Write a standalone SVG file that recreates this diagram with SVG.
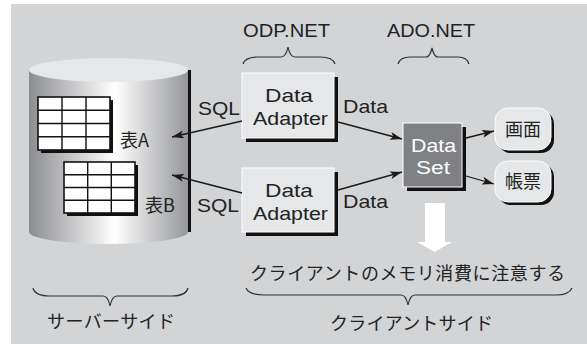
<svg xmlns="http://www.w3.org/2000/svg" width="587" height="344" viewBox="0 0 587 344">
<defs>
<linearGradient id="cyl" x1="0" y1="0" x2="1" y2="0">
<stop offset="0" stop-color="#8c8d90"/>
<stop offset="0.54" stop-color="#ffffff"/>
<stop offset="1" stop-color="#96979a"/>
</linearGradient>
<marker id="ah" viewBox="0 0 12 8" refX="12" refY="4" markerWidth="12" markerHeight="8" markerUnits="userSpaceOnUse" orient="auto">
<path d="M0,0 L12,4 L0,8 L3,4 Z" fill="#1a1a1a"/>
</marker>
</defs>
<style>
.t{font-family:"Liberation Sans","Noto Sans CJK JP",sans-serif;font-size:19px;fill:#222;}
.j{font-family:"Noto Sans CJK JP","Liberation Sans",sans-serif;font-size:18px;fill:#222;}
.w{fill:#ffffff;}
.shadow{fill:#111;}
.br{fill:none;stroke:#333;stroke-width:1.2;}
.cn{fill:none;stroke:#1a1a1a;stroke-width:1.3;marker-end:url(#ah);}
.tbl{fill:#fff;stroke:#111;stroke-width:1.6;}
.grid{stroke:#111;stroke-width:1.4;}
</style>
<rect x="0" y="0" width="587" height="344" fill="#ffffff"/>
<rect x="11" y="4" width="576" height="340" fill="#d3d4d6"/>

<g id="database">
<rect x="188" y="70" width="3" height="162" fill="#111"/>
<path d="M29,70 L29,232 A79.5,12 0 0 0 188,232 L188,70 Z" fill="url(#cyl)"/>
<ellipse cx="108.5" cy="70" rx="79.5" ry="12" fill="#e6e7e9"/>
</g>

<g id="tableA">
<rect x="41" y="100" width="72" height="53" class="shadow"/>
<rect x="38" y="97" width="72" height="53" class="tbl"/>
<path d="M62,97 V150 M86,97 V150 M38,110.25 H110 M38,123.5 H110 M38,136.75 H110" class="grid"/>
<text x="120" y="147" class="j">表A</text>
</g>

<g id="tableB">
<rect x="67" y="165" width="71" height="51" class="shadow"/>
<rect x="64" y="162" width="71" height="51" class="tbl"/>
<path d="M87.7,162 V213 M111.3,162 V213 M64,174.75 H135 M64,187.5 H135 M64,200.25 H135" class="grid"/>
<text x="145" y="212" class="j">表B</text>
</g>

<g id="adapter1">
<rect x="246" y="77" width="92" height="65" class="shadow"/>
<rect x="242" y="73" width="92" height="65" fill="#e6e7e9" stroke="#fff" stroke-width="1"/>
<text x="265" y="102" class="t" textLength="48" lengthAdjust="spacingAndGlyphs">Data</text>
<text x="253" y="125" class="t" textLength="75" lengthAdjust="spacingAndGlyphs">Adapter</text>
</g>

<g id="adapter2">
<rect x="246" y="172" width="92" height="64" class="shadow"/>
<rect x="242" y="168" width="92" height="64" fill="#e6e7e9" stroke="#fff" stroke-width="1"/>
<text x="265" y="197" class="t" textLength="48" lengthAdjust="spacingAndGlyphs">Data</text>
<text x="253" y="220" class="t" textLength="75" lengthAdjust="spacingAndGlyphs">Adapter</text>
</g>

<g id="dataset">
<rect x="407" y="127" width="59" height="64" class="shadow"/>
<rect x="403" y="123" width="59" height="64" fill="#808184" stroke="#fff" stroke-width="1"/>
<text x="411" y="152" class="t w" textLength="45" lengthAdjust="spacingAndGlyphs">Data</text>
<text x="416" y="174" class="t w" textLength="34" lengthAdjust="spacingAndGlyphs">Set</text>
</g>

<g id="screen">
<rect x="498" y="111" width="56" height="42" rx="13" class="shadow"/>
<rect x="495" y="108" width="56" height="42" rx="13" fill="#e6e7e9" stroke="#fff" stroke-width="1"/>
<text x="523" y="136" class="j" text-anchor="middle">画面</text>
</g>

<g id="report">
<rect x="498" y="164" width="56" height="41" rx="13" class="shadow"/>
<rect x="495" y="161" width="56" height="41" rx="13" fill="#e6e7e9" stroke="#fff" stroke-width="1"/>
<text x="523" y="188" class="j" text-anchor="middle">帳票</text>
</g>

<g id="connectors">
<line x1="242" y1="121" x2="172" y2="137" class="cn"/>
<line x1="242" y1="193" x2="172" y2="175" class="cn"/>
<line x1="338" y1="122" x2="402" y2="139" class="cn"/>
<line x1="338" y1="190" x2="402" y2="172" class="cn"/>
<line x1="466" y1="138" x2="494" y2="131" class="cn"/>
<line x1="466" y1="176" x2="494" y2="184" class="cn"/>
<path d="M425,203 H445 V242 H452 L434.5,252 L417,242 H425 Z" fill="#ffffff"/>
</g>

<g id="labels">
<text x="198" y="115" class="t" textLength="42" lengthAdjust="spacingAndGlyphs">SQL</text>
<text x="197" y="212" class="t" textLength="42" lengthAdjust="spacingAndGlyphs">SQL</text>
<text x="343" y="113" class="t" textLength="45" lengthAdjust="spacingAndGlyphs">Data</text>
<text x="343" y="208" class="t" textLength="45" lengthAdjust="spacingAndGlyphs">Data</text>
<text x="243" y="37" class="t" textLength="87" lengthAdjust="spacingAndGlyphs">ODP.NET</text>
<text x="387" y="37" class="t" textLength="88" lengthAdjust="spacingAndGlyphs">ADO.NET</text>
<text x="250" y="280" class="j" textLength="315">クライアントのメモリ消費に注意する</text>
<text x="47" y="328" class="j" textLength="128">サーバーサイド</text>
<text x="330" y="330" class="j" textLength="163">クライアントサイド</text>
</g>

<g id="braces">
<path class="br" d="M243,64 Q245,57 258,57 L281,57 Q286,57 288,47 Q290,57 295,57 L320,57 Q333,57 335,64"/>
<path class="br" d="M398,64 Q400,57 410,57 L426,57 Q430,57 432,48 Q434,57 438,57 L458,57 Q467,57 469,64"/>
<path class="br" d="M33,288 Q35,296 50,296 L103,296 Q108,296 110,306 Q112,296 117,296 L172,296 Q186,296 188,288"/>
<path class="br" d="M246,288 Q249,295 264,295 L401,295 Q406,295 408,305 Q410,295 415,295 L556,295 Q569,295 572,288"/>
</g>
</svg>
